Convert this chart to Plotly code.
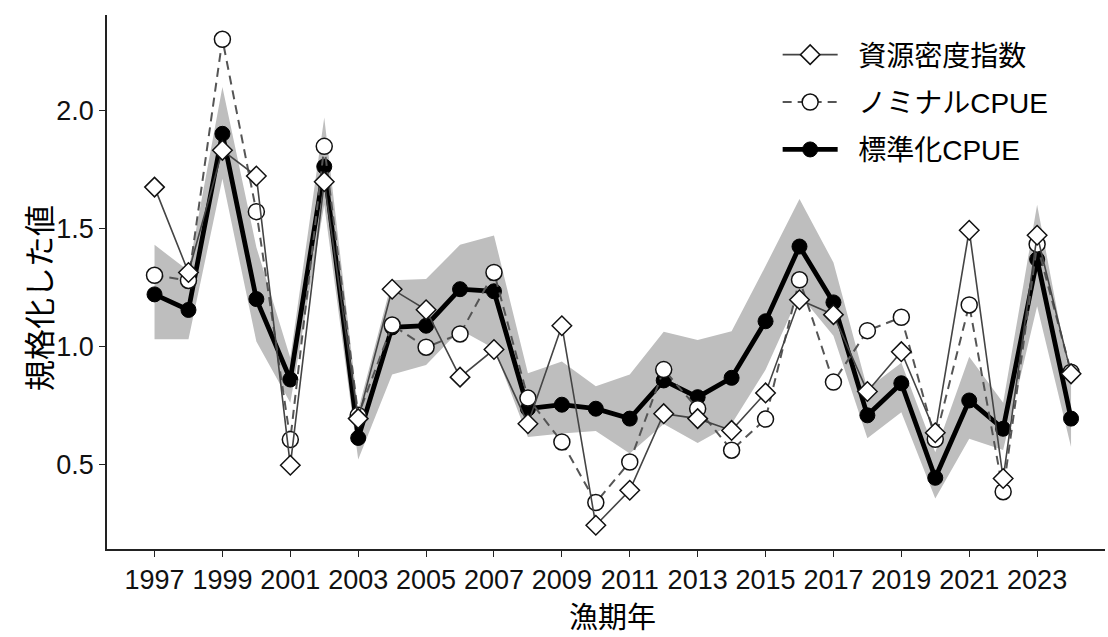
import plotly.graph_objects as go

# Fishing years
years = list(range(1997, 2025))

# Stock density index (open diamonds)
density_index = [1.675, 1.313, 1.831, 1.722, 0.495, 1.698, 0.693, 1.242, 1.155, 0.869,
                 0.986, 0.671, 1.087, 0.241, 0.389, 0.714, 0.693, 0.643, 0.802, 1.197,
                 1.134, 0.808, 0.977, 0.633, 1.492, 0.439, 1.471, 0.883]

# Nominal CPUE (open circles, dashed)
nominal_cpue = [1.301, 1.279, 2.302, 1.571, 0.604, 1.848, 0.707, 1.090, 0.996, 1.052,
                1.313, 0.780, 0.594, 0.337, 0.509, 0.901, 0.735, 0.559, 0.691, 1.282,
                0.848, 1.066, 1.123, 0.605, 1.175, 0.383, 1.433, 0.890]

# Standardized CPUE (filled circles)
std_cpue = [1.220, 1.154, 1.901, 1.200, 0.859, 1.762, 0.611, 1.080, 1.087, 1.242,
            1.233, 0.735, 0.752, 0.735, 0.693, 0.855, 0.784, 0.866, 1.106, 1.423,
            1.186, 0.707, 0.843, 0.442, 0.770, 0.650, 1.369, 0.693]

# Confidence band of the standardized CPUE
std_lower = [1.03, 1.03, 1.71, 1.02, 0.76, 1.60, 0.52, 0.88, 0.92, 1.07,
             0.99, 0.615, 0.63, 0.64, 0.545, 0.67, 0.59, 0.67, 0.90, 1.22,
             1.045, 0.61, 0.72, 0.354, 0.608, 0.56, 1.17, 0.573]
std_upper = [1.43, 1.32, 2.10, 1.42, 0.95, 1.97, 0.73, 1.28, 1.285, 1.43,
             1.47, 0.885, 0.935, 0.83, 0.88, 1.062, 1.026, 1.064, 1.34, 1.625,
             1.355, 0.82, 0.93, 0.55, 0.955, 0.76, 1.60, 0.84]

x_ticks = list(range(1997, 2024, 2))
y_ticks = [0.5, 1.0, 1.5, 2.0]

FONT = "Liberation Sans, Arial, Noto Sans CJK JP, sans-serif"
PAD = "\u00a0\u00a0"  # gap between legend symbol and label

fig = go.Figure()

# grey band
fig.add_trace(go.Scatter(x=years, y=std_lower, mode="lines", line=dict(width=0),
                         showlegend=False, hoverinfo="skip"))
fig.add_trace(go.Scatter(x=years, y=std_upper, mode="lines", line=dict(width=0),
                         fill="tonexty", fillcolor="#bebebe",
                         showlegend=False, hoverinfo="skip"))

fig.add_trace(go.Scatter(
    x=years, y=std_cpue, mode="lines+markers", name=PAD + "標準化CPUE",
    line=dict(color="black", width=4.8),
    marker=dict(symbol="circle", size=15, color="black", line=dict(color="black", width=1)),
    legendrank=3, legendgroup="c"))

fig.add_trace(go.Scatter(
    x=years, y=nominal_cpue, mode="lines+markers", name=PAD + "ノミナルCPUE",
    line=dict(color="#555555", width=2, dash="9px,6px"),
    marker=dict(symbol="circle", size=16, color="white", line=dict(color="#111111", width=1.5)),
    legendrank=2, legendgroup="b"))

fig.add_trace(go.Scatter(
    x=years, y=density_index, mode="lines+markers", name=PAD + "資源密度指数",
    line=dict(color="#444444", width=1.6),
    marker=dict(symbol="diamond", size=15, color="white", line=dict(color="#111111", width=1.5)),
    legendrank=1, legendgroup="a"))

fig.update_layout(
    width=1108, height=637,
    margin=dict(l=107, r=3, t=15, b=88),
    paper_bgcolor="white", plot_bgcolor="white",
    font=dict(family=FONT, size=27, color="black"),
    legend=dict(x=0.672, y=0.972, xanchor="left", yanchor="top",
                bgcolor="rgba(0,0,0,0)", font=dict(size=28, family=FONT),
                itemwidth=55, tracegroupgap=8),
    xaxis=dict(range=[1995.6, 2025.0], tickvals=x_ticks, ticktext=[str(t) for t in x_ticks],
               showline=True, linecolor="#222222", linewidth=1.6, mirror=False,
               ticks="outside", ticklen=6, tickwidth=1.4, tickcolor="#222222",
               showgrid=False, zeroline=False,
               tickfont=dict(size=27, color="#111111")),
    yaxis=dict(range=[0.14, 2.405], tickvals=y_ticks, ticktext=["0.5", "1.0", "1.5", "2.0"],
               showline=True, linecolor="#222222", linewidth=1.6,
               ticks="outside", ticklen=6, tickwidth=1.4, tickcolor="#222222",
               showgrid=False, zeroline=False,
               tickfont=dict(size=27, color="#111111")),
    annotations=[
        dict(text="漁期年", x=612, y=618, showarrow=False, font=dict(size=29, family=FONT)),
        dict(text="規格化した値", x=40, y=298, textangle=-90,
             showarrow=False, font=dict(size=31, family=FONT)),
    ],
)

# place the axis titles in pixel coordinates of the page
W, H = 1108, 637
L, R, T, B = 107, 3, 15, 88
pw, ph = W - L - R, H - T - B
for ann in fig.layout.annotations:
    px, py = ann.x, ann.y
    ann.update(xref="paper", yref="paper",
               x=(px - L) / pw, y=(H - B - py) / ph,
               xanchor="center", yanchor="middle")

fig.write_html("out.html")
